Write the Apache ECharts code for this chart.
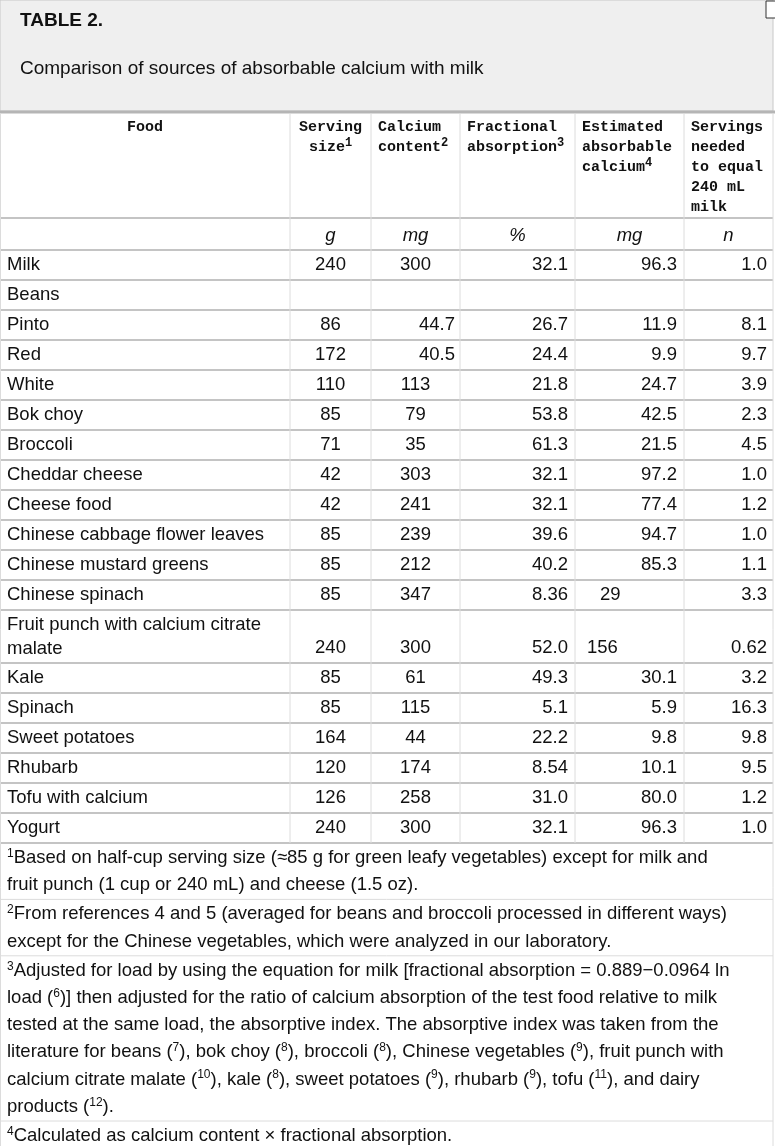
<!DOCTYPE html>
<html>
<head>
<meta charset="utf-8">
<script src="https://cdn.jsdelivr.net/npm/echarts@6/dist/echarts.min.js"></script>
<style>html,body{margin:0;padding:0;background:#fff}#main{width:775px;height:1146px}</style>
</head>
<body>
<div id="main"></div>
<script>
const foods = ['Milk','Beans','Pinto','Red','White','Bok choy','Broccoli','Cheddar cheese','Cheese food',
  'Chinese cabbage flower leaves','Chinese mustard greens','Chinese spinach',
  'Fruit punch with calcium citrate\nmalate','Kale','Spinach','Sweet potatoes','Rhubarb','Tofu with calcium','Yogurt'];
const servingSize = ['240','','86','172','110','85','71','42','42','85','85','85','240','85','85','164','120','126','240'];
const calciumContent = ['300','','44.7','40.5','113','79','35','303','241','239','212','347','300','61','115','44','174','258','300'];
const fractionalAbs = ['32.1','','26.7','24.4','21.8','53.8','61.3','32.1','32.1','39.6','40.2','8.36','52.0','49.3','5.1','22.2','8.54','31.0','32.1'];
const estimatedAbs = ['96.3','','11.9','9.9','24.7','42.5','21.5','97.2','77.4','94.7','85.3','29','156','30.1','5.9','9.8','10.1','80.0','96.3'];
const servingsNeeded = ['1.0','','8.1','9.7','3.9','2.3','4.5','1.0','1.2','1.0','1.1','3.3','0.62','3.2','16.3','9.8','9.5','1.2','1.0'];
const headers = ['Food','Serving\nsize{s|1}','Calcium\ncontent{s|2}','Fractional\nabsorption{s|3}','Estimated\nabsorbable\ncalcium{s|4}','Servings\nneeded\nto equal\n240 mL\nmilk'];
const units = ['','g','mg','%','mg','n'];
const footnotes = [
  ['{s|1}Based on half-cup serving size (≈85 g for green leafy vegetables) except for milk and','fruit punch (1 cup or 240 mL) and cheese (1.5 oz).'],
  ['{s|2}From references 4 and 5 (averaged for beans and broccoli processed in different ways)','except for the Chinese vegetables, which were analyzed in our laboratory.'],
  ['{s|3}Adjusted for load by using the equation for milk [fractional absorption = 0.889−0.0964 ln','load ({s|6})] then adjusted for the ratio of calcium absorption of the test food relative to milk','tested at the same load, the absorptive index. The absorptive index was taken from the','literature for beans ({s|7}), bok choy ({s|8}), broccoli ({s|8}), Chinese vegetables ({s|9}), fruit punch with','calcium citrate malate ({s|10}), kale ({s|8}), sweet potatoes ({s|9}), rhubarb ({s|9}), tofu ({s|11}), and dairy','products ({s|12}).'],
  ['{s|4}Calculated as calcium content × fractional absorption.']
];

const colX = [0, 290, 371, 460, 575, 684, 773];
const sans = 'Liberation Sans, Arial, sans-serif';
const mono = 'Liberation Mono, Courier New, monospace';
const FS = '18.5px ';
const g = [];
const line = (x1,y1,x2,y2,c,w) => g.push({type:'line',shape:{x1,y1,x2,y2},style:{stroke:c,lineWidth:w},z:5});
const text = (x,y,t,o) => g.push({type:'text',x,y,z:10,style:Object.assign({text:t,font:FS+sans,fill:'#111',verticalAlign:'middle',
  rich:{s:{fontSize:12,verticalAlign:'top',padding:[0,0,9,0],fontFamily:o&&o.mono?mono:sans,fontWeight:o&&o.mono?'bold':'normal'}}},o||{})});

// caption box
g.push({type:'rect',shape:{x:0,y:0,width:773,height:111},style:{fill:'#efefef',stroke:'#c8c8c8',lineWidth:1}});
line(0,112,775,112,'#b5b5b5',3);
g.push({type:'rect',shape:{x:766,y:1,width:10,height:17},style:{fill:'#fff',stroke:'#333',lineWidth:1},z:6});
text(20,21,'TABLE 2.',{font:'bold 19px '+sans});
text(20,69,'Comparison of sources of absorbable calcium with milk',{font:'19px '+sans});

// header
headers.forEach((h,i) => {
  const center = i < 2;
  const x = center ? (i===0 ? 145 : (colX[1]+colX[2])/2) : colX[i]+7;
  text(x,117,h,{font:'bold 15px '+mono,lineHeight:20,align:center?'center':'left',verticalAlign:'top',mono:true});
});
line(0,218,773,218,'#c4c4c4',2);
units.forEach((u,i) => { if (u) text((colX[i]+colX[i+1])/2,236,u,{font:'italic '+FS+sans,align:'center'}); });

// rows
let y = 250;
line(0,y,773,y,'#c4c4c4',2);
foods.forEach((f,r) => {
  const two = f.indexOf('\n') >= 0;
  const hgt = two ? 53 : 30;
  const ty = y + hgt - 15;
  text(7, two ? y + hgt/2 : ty, f, {lineHeight:24});
  text((colX[1]+colX[2])/2, ty, servingSize[r], {align:'center'});
  const cc = calciumContent[r];
  if (cc.indexOf('.')>=0) text(colX[3]-5, ty, cc, {align:'right'});
  else text((colX[2]+colX[3])/2, ty, cc, {align:'center'});
  text(colX[4]-7, ty, fractionalAbs[r], {align:'right'});
  const ea = estimatedAbs[r];
  if (ea.indexOf('.')>=0) text(colX[5]-7, ty, ea, {align:'right'});
  else text(colX[4] + (ea.length<3?25:12), ty, ea, {align:'left'});
  text(colX[6]-6, ty, servingsNeeded[r], {align:'right'});
  y += hgt;
  line(0,y,773,y,'#c4c4c4',2);
});
for (let i=1;i<6;i++) line(colX[i],113,colX[i],y,'#dcdcdc',1);
line(773,113,773,1146,'#dcdcdc',1);
line(0.5,113,0.5,1146,'#dcdcdc',1);

// footnotes
let fy = y + 15;
footnotes.forEach((fn,k) => {
  fn.forEach((l,j) => { text(7, fy + j*27.2, l); });
  fy += fn.length*27.2 + 2;
  if (k<3) line(0,fy-15,773,fy-15,'#dcdcdc',1);
});

const chart = echarts.init(document.getElementById('main'));
chart.setOption({animation:false, graphic:g});
</script>
</body>
</html>
